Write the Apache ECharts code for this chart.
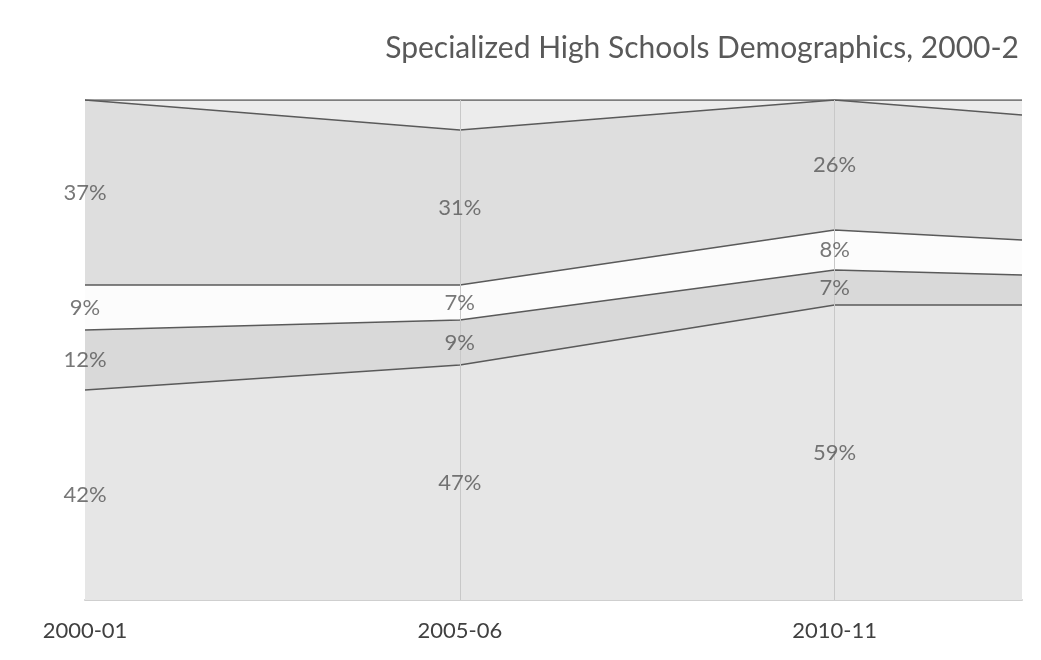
<!DOCTYPE html>
<html>
<head>
<meta charset="utf-8">
<script src="https://cdn.jsdelivr.net/npm/echarts@6/dist/echarts.min.js"></script>
<style>html,body{margin:0;padding:0;background:#fff;}#c{width:1041px;height:660px;}</style>
</head>
<body>
<div id="c"></div>
<script>
// x positions (school year start); last point is the right edge of the cropped view
var years = [2000, 2005, 2010, 2012.5];
var tickLabels = {2000: '2000-01', 2005: '2005-06', 2010: '2010-11'};
var labeledCount = 3;
var asian    = [42, 47, 59, 59];
var black    = [12, 9, 7, 6];
var hispanic = [9, 7, 8, 7];
var white    = [37, 31, 26, 25];
var other    = [0, 6, 0, 3];

var seriesDefs = [
  {name: 'Asian', data: asian, color: '#e6e6e6', label: true},
  {name: 'Black', data: black, color: '#d9d9d9', label: true},
  {name: 'Hispanic', data: hispanic, color: '#fcfcfc', label: true},
  {name: 'White', data: white, color: '#dedede', label: true},
  {name: 'Other', data: other, color: '#ececec', label: false}
];

var FONT = 'Lato';
var areaSeries = [];
var labelSeries = [];
var base = years.map(function(){return 0;});
seriesDefs.forEach(function(d, si){
  var top = base.map(function(b, i){ return b + d.data[i]; });
  // cumulative area: drawn from top band down so lower bands overlay
  areaSeries.unshift({
    name: d.name, type: 'line', symbol: 'none',
    data: years.map(function(y, i){ return [y, top[i]]; }),
    lineStyle: {color: '#5a5a5a', width: 1.5},
    areaStyle: {color: d.color, opacity: 1},
    z: 2
  });
  if (d.label) {
    var pts = [];
    for (var i = 0; i < labeledCount; i++) {
      pts.push([years[i], base[i] + d.data[i] / 2, d.data[i]]);
    }
    labelSeries.push({
      type: 'scatter', symbolSize: 0, silent: true, z: 5,
      data: pts,
      label: {show: true, position: 'inside', color: '#555',
        fontFamily: FONT, fontSize: 22,
        formatter: function(p){ return p.value[2] + '%'; }}
    });
  }
  base = top;
});
// vertical gridlines visible through the areas
var gridSeries = {
  type: 'line', data: [], silent: true, z: 4,
  markLine: {silent: true, symbol: 'none', label: {show: false},
    lineStyle: {color: '#c8c8c8', width: 1, type: 'solid'},
    data: [{xAxis: 2005}, {xAxis: 2010}]}
};

var chart = echarts.init(document.getElementById('c'));
chart.setOption({
  animation: false,
  backgroundColor: '#ffffff',
  title: {text: 'Specialized High Schools Demographics, 2000-2', right: 17, top: 28,
    textStyle: {fontFamily: FONT, fontSize: 30, fontWeight: 'normal', color: '#595959'}},
  grid: {left: 85, right: 19, top: 100, bottom: 60},
  xAxis: {type: 'value', min: 2000, max: 2012.5, interval: 5,
    axisLine: {show: true, lineStyle: {color: '#cfcfcf', width: 2}},
    axisTick: {show: false},
    splitLine: {show: false},
    axisLabel: {color: '#404040', fontFamily: FONT, fontSize: 22, margin: 20,
      showMaxLabel: false,
      formatter: function(v){ return tickLabels[v] || ''; }}
  },
  yAxis: {type: 'value', min: 0, max: 100, show: true,
    axisLine: {show: true, lineStyle: {color: '#9a9a9a'}},
    axisTick: {show: false}, axisLabel: {show: false}, splitLine: {show: false}},
  series: areaSeries.concat([gridSeries], labelSeries)
});
</script>
</body>
</html>
